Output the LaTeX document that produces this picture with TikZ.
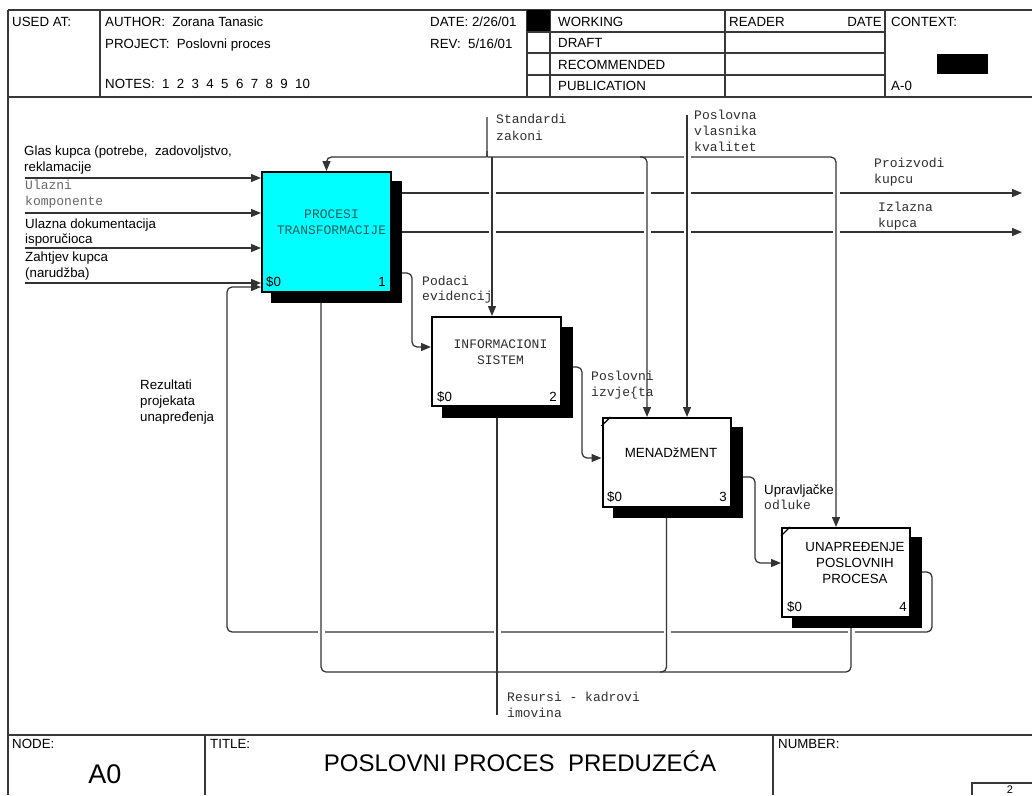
\documentclass[tikz,border=0pt]{standalone}
\usepackage{fontspec}
\setmainfont{Liberation Sans}
\newfontfamily\monofam{Liberation Mono}
\usetikzlibrary{arrows.meta}
\pgfdeclarelayer{lines}
\pgfdeclarelayer{shadows}
\pgfsetlayers{lines,shadows,main}
\definecolor{boxcyan}{RGB}{0,255,255}
\definecolor{boxink}{RGB}{30,95,95}
\begin{document}
\begin{tikzpicture}[x=1pt,y=-1pt,
  framerule/.style={draw=black!78,line width=1.3pt},
  conn/.style={draw=black!80,line width=1.25pt,rounded corners=5pt},
  arr/.style={conn,-{Triangle[length=10pt,width=8pt]}},
  idefbox/.style={draw=black,line width=2pt,fill=white,inner sep=0pt,minimum width=128pt,minimum height=89pt},
  dropshadow/.style={fill=black},
  gapfill/.style={fill=white},
  sans/.style={font=\fontsize{13.3}{16}\selectfont,inner sep=0pt},
  mono/.style={font=\monofam\fontsize{13}{16}\selectfont,inner sep=0pt,text=black!82},
  big/.style={font=\fontsize{24}{28}\selectfont,inner sep=0pt},
]
\useasboundingbox (0,0) rectangle (1032,795);

% ---------- form frame ----------
\draw[framerule] (8,10) -- (1032,10);
\draw[framerule] (8,10) -- (8,795);
\draw[framerule] (8,97) -- (1032,97);
\draw[framerule] (8,735) -- (1032,735);
\draw[framerule] (100,10) -- (100,97);
\draw[framerule] (527,10) -- (527,97);
\draw[framerule] (550,10) -- (550,97);
\draw[framerule] (725,10) -- (725,97);
\draw[framerule] (885,10) -- (885,97);
\foreach \yy in {32,53,75} \draw[framerule] (527,\yy) -- (885,\yy);
\fill (527,10) rectangle (550,31);
\fill (937,54) rectangle (988,74);
\draw[framerule] (205,735) -- (205,795);
\draw[framerule] (773,735) -- (773,795);
\draw[framerule] (972,795) -- (972,783) -- (1032,783);

% header texts
\node[sans,anchor=base west] (hUsed) at (12,26) {USED AT:};
\node[sans,anchor=base west] (hAuthor) at (105,26) {AUTHOR:\ \ Zorana Tanasic};
\node[sans,anchor=base west] (hProject) at (105,48) {PROJECT:\ \ Poslovni proces};
\node[sans,anchor=base west] (hNotes) at (105,88) {NOTES:\ \ 1\ \ 2\ \ 3\ \ 4\ \ 5\ \ 6\ \ 7\ \ 8\ \ 9\ \ 10};
\node[sans,anchor=base west] (hDate) at (430,26) {DATE: 2/26/01};
\node[sans,anchor=base west] (hRev) at (430,48) {REV:\ \ 5/16/01};
\node[sans,anchor=base west] (hWork) at (558,26) {WORKING};
\node[sans,anchor=base west] (hDraft) at (558,47.5) {DRAFT};
\node[sans,anchor=base west] (hRec) at (558,69) {RECOMMENDED};
\node[sans,anchor=base west] (hPub) at (558,90.5) {PUBLICATION};
\node[sans,anchor=base west] (hReader) at (729,26) {READER};
\node[sans,anchor=base east] (hRDate) at (882,26) {DATE};
\node[sans,anchor=base west] (hContext) at (891,26) {CONTEXT:};
\node[sans,anchor=base west] (hCtxNode) at (891,90.5) {A-0};

% footer texts
\node[sans,anchor=base west] (fNode) at (12,748) {NODE:};
\node[sans,anchor=base west] (fTitle) at (210,748) {TITLE:};
\node[sans,anchor=base west] (fNumber) at (778,748) {NUMBER:};
\node[big,anchor=base] (fTitleText) at (520,771) {POSLOVNI PROCES\ \ PREDUZEĆA};
\node[big,anchor=base,font=\fontsize{27}{30}\selectfont] (fNodeText) at (105,783) {A0};
\node[sans,anchor=base,font=\fontsize{11}{13}\selectfont] (fNum) at (1010,793) {2};

% ---------- activity boxes ----------
\node[idefbox,fill=boxcyan,minimum width=129pt,minimum height=120pt] (b1) at (326.5,232) {};
\node[idefbox,minimum width=129pt] (b2) at (496.5,361.5) {};
\node[idefbox] (b3) at (666.5,462.5) {};
\node[idefbox] (b4) at (846,572.5) {};

\begin{pgfonlayer}{shadows}
  \fill[dropshadow] ([shift={(10,10)}]b1.south west) rectangle ([shift={(10,10)}]b1.north east);
  \fill[dropshadow] ([shift={(11,11)}]b2.south west) rectangle ([shift={(11,11)}]b2.north east);
  \fill[dropshadow] ([shift={(11,10)}]b3.south west) rectangle ([shift={(11,10)}]b3.north east);
  \fill[dropshadow] ([shift={(11,10)}]b4.south west) rectangle ([shift={(11,10)}]b4.north east);
\end{pgfonlayer}

% corner marks
\draw[line width=1.1pt] ([yshift=-9pt]b3.north west) -- ([xshift=9pt]b3.north west);
\draw[line width=1.1pt] ([yshift=-9pt]b4.north west) -- ([xshift=9pt]b4.north west);

% box texts
\node[mono,text=boxink,anchor=base] (b1l1) at (331.5,218) {PROCESI};
\node[mono,text=boxink,anchor=base] (b1l2) at (331.5,234) {TRANSFORMACIJE};
\node[sans,anchor=base west] (b1c) at (266,286) {\$0};
\node[sans,anchor=base east] (b1n) at (386,286) {1};

\node[mono,anchor=base] (b2l1) at (500.5,348) {INFORMACIONI};
\node[mono,anchor=base] (b2l2) at (500.5,364) {SISTEM};
\node[sans,anchor=base west] (b2c) at (437,401) {\$0};
\node[sans,anchor=base east] (b2n) at (557,401) {2};

\node[sans,anchor=base] (b3l1) at (671,457) {MENADžMENT};
\node[sans,anchor=base west] (b3c) at (607,501) {\$0};
\node[sans,anchor=base east] (b3n) at (727,501) {3};

\node[sans,anchor=base] (b4l1) at (855,551) {UNAPREĐENJE};
\node[sans,anchor=base] (b4l2) at (855,567) {POSLOVNIH};
\node[sans,anchor=base] (b4l3) at (855,583) {PROCESA};
\node[sans,anchor=base west] (b4c) at (787,611) {\$0};
\node[sans,anchor=base east] (b4n) at (907,611) {4};

% ---------- arrow labels ----------
\node[sans,anchor=base west] (lGlas1) at (24,155) {Glas kupca (potrebe,\ \ zadovoljstvo,};
\node[sans,anchor=base west] (lGlas2) at (24,171) {reklamacije};
\node[mono,anchor=base west,text=black!60] (lUl1) at (25,189) {Ulazni};
\node[mono,anchor=base west,text=black!60] (lUl2) at (25,205) {komponente};
\node[sans,anchor=base west] (lDok1) at (25,228) {Ulazna dokumentacija};
\node[sans,anchor=base west] (lDok2) at (25,243) {isporučioca};
\node[sans,anchor=base west] (lZah1) at (25,261) {Zahtjev kupca};
\node[sans,anchor=base west] (lZah2) at (25,277) {(narudžba)};
\node[sans,anchor=base west] (lRez1) at (140,389) {Rezultati};
\node[sans,anchor=base west] (lRez2) at (140,405) {projekata};
\node[sans,anchor=base west] (lRez3) at (140,421) {unapređenja};
\node[mono,anchor=base west] (lStd1) at (496,123) {Standardi};
\node[mono,anchor=base west] (lStd2) at (496,140) {zakoni};
\node[mono,anchor=base west] (lPos1) at (694,119.5) {Poslovna};
\node[mono,anchor=base west] (lPos2) at (694,135.5) {vlasnika};
\node[mono,anchor=base west] (lPos3) at (694,151) {kvalitet};
\node[mono,anchor=base west] (lPro1) at (874,167) {Proizvodi};
\node[mono,anchor=base west] (lPro2) at (874,183) {kupcu};
\node[mono,anchor=base west] (lIzl1) at (878,211.5) {Izlazna};
\node[mono,anchor=base west] (lIzl2) at (878,227) {kupca};
\node[mono,anchor=base west] (lPod1) at (422,285) {Podaci};
\node[mono,anchor=base west] (lPod2) at (422,300.5) {evidencij};
\node[mono,anchor=base west] (lIzv1) at (591,380.5) {Poslovni};
\node[mono,anchor=base west] (lIzv2) at (591,396) {izvje\{ta};
\node[sans,anchor=base west] (lUpr1) at (764,494) {Upravljačke};
\node[mono,anchor=base west] (lUpr2) at (764,509.5) {odluke};
\node[mono,anchor=base west] (lRes1) at (507,701) {Resursi - kadrovi};
\node[mono,anchor=base west] (lRes2) at (507,717) {imovina};

% ---------- connectors ----------
\coordinate (in1) at (25,178);
\coordinate (in2) at (25,213);
\coordinate (in3) at (25,248);
\coordinate (in4) at (25,283);
\coordinate (o1) at (1022,193);
\coordinate (o2) at (1022,232);
\coordinate (std) at (487,117);
\coordinate (pos) at (687,115);
\coordinate (res) at (497,715);

\begin{pgfonlayer}{lines}
  % inputs
  \draw[arr] (in1) -- (in1 -| b1.west);
  \draw[arr] (in2) -- (in2 -| b1.west);
  \draw[arr] (in3) -- (in3 -| b1.west);
  \draw[arr] (in4) -- (in4 -| b1.west);
  % outputs
  \draw[arr] (b1.east |- o1) -- (o1);
  \draw[arr] (b1.east |- o2) -- (o2);
  % feedback from improvement back to transformation
  \draw[arr] (b4.east |- 0,572) -- (932,572) -- (932,632) -- (227,632) -- (227,287) -- (b1.west |- 0,287);
  % breaks where vertical lines cross
  \foreach \xx in {492,647,687,836} {
    \fill[gapfill] (\xx-3.5,190) rectangle (\xx+3.5,196);
    \fill[gapfill] (\xx-3.5,229) rectangle (\xx+3.5,235);
  }
  \foreach \xx in {321,497,667,851}
    \fill[gapfill] (\xx-3.5,629) rectangle (\xx+3.5,635);
  % control bus
  \draw[arr] (std) -- (487,151) .. controls (487,157) .. (481,157) -- (b1.north |- 0,157) -- (b1.north);
  \draw[arr] (487,151) .. controls (487,157) .. (493,157) -- (647,157) -- (647,0 |- b3.north);
  \draw[arr] (640,157) -- (836,157) -- (836,0 |- b4.north);
  \draw[arr] (492,157) -- (492,0 |- b2.north);
  \fill[gapfill] (683.5,154) rectangle (690.5,160);
  \draw[arr] (pos) -- (pos |- b3.north);
  % box to box
  \draw[arr] (b1.east |- 0,273) -- (412,273) -- (412,347) -- (b2.west |- 0,347);
  \draw[arr] (b2.east |- 0,367) -- (582,367) -- (582,458) -- (b3.west |- 0,458);
  \draw[arr] (b3.east |- 0,477) -- (755,477) -- (755,563) -- (b4.west |- 0,563);
  % mechanisms
  \draw[conn] (res) -- (res |- b2.south);
  \draw[conn] (497,677) .. controls (497,672) .. (491,672) -- (321,672) -- (321,0 |- b1.south);
  \draw[conn] (497,677) .. controls (497,672) .. (503,672) -- (851,672) -- (851,0 |- b4.south);
  \draw[conn] (660,672) -- (b3.south |- 0,672) -- (b3.south);
\end{pgfonlayer}
\end{tikzpicture}
\end{document}
